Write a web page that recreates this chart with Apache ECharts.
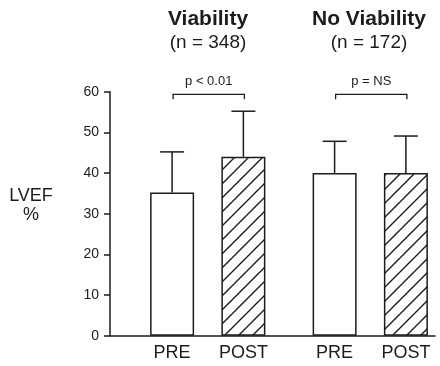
<!DOCTYPE html>
<html>
<head>
<meta charset="utf-8">
<script src="https://cdn.jsdelivr.net/npm/echarts@6/dist/echarts.min.js"></script>
<style>
html,body{margin:0;padding:0;background:#fff;}
#c{width:440px;height:366px;}
</style>
</head>
<body>
<div id="c"></div>
<script>
// ---- data ----
const categories = ['Viability', 'No Viability'];
const groupN = ['(n = 348)', '(n = 172)'];
const seriesNames = ['PRE', 'POST'];
const preMean = [35.2, 40.0];
const preSD = [10.0, 7.8];
const postMean = [44.0, 40.0];
const postSD = [11.2, 9.1];
const pLabels = ['p < 0.01', 'p = NS'];
const yMin = 0, yMax = 60, yStep = 10;

// ---- style ----
const FONT = '"Liberation Sans", Arial, Helvetica, sans-serif';
const INK = '#1c1c1c';
const BAR_W = 44;
const GAP = 0.62;
const BRACKET_LEVEL = 59.35;

function hatch() {
  const s = 14;
  const c = document.createElement('canvas');
  c.width = s; c.height = s;
  const g = c.getContext('2d');
  g.fillStyle = '#fff';
  g.fillRect(0, 0, s, s);
  g.strokeStyle = INK;
  g.lineWidth = 1.4;
  g.beginPath();
  g.moveTo(-2, s + 2); g.lineTo(s + 2, -2);
  g.moveTo(-2, 2); g.lineTo(2, -2);
  g.moveTo(s - 2, s + 2); g.lineTo(s + 2, s - 2);
  g.stroke();
  return c;
}

const chart = echarts.init(document.getElementById('c'), null, {renderer: 'canvas'});

const errData = [];
categories.forEach((c, i) => {
  errData.push([i, preMean[i], preSD[i], 0]);
  errData.push([i, postMean[i], postSD[i], 1]);
});

const barLabel = {
  show: true, position: 'bottom', distance: 8,
  formatter: p => p.seriesName,
  fontFamily: FONT, fontSize: 18, color: INK
};

const option = {
  backgroundColor: '#fff',
  animation: false,
  title: [
    {text: categories[0], subtext: groupN[0], left: 208, top: 7, textAlign: 'center', padding: 0, itemGap: 1,
     textStyle: {fontFamily: FONT, fontSize: 21, fontWeight: 'bold', color: INK, lineHeight: 24},
     subtextStyle: {fontFamily: FONT, fontSize: 19, color: INK, lineHeight: 22}},
    {text: categories[1], subtext: groupN[1], left: 369, top: 7, textAlign: 'center', padding: 0, itemGap: 1,
     textStyle: {fontFamily: FONT, fontSize: 21, fontWeight: 'bold', color: INK, lineHeight: 24},
     subtextStyle: {fontFamily: FONT, fontSize: 19, color: INK, lineHeight: 22}},
    {text: 'LVEF\n%', left: 31, top: 187, textAlign: 'center', padding: 0,
     textStyle: {fontFamily: FONT, fontSize: 18, fontWeight: 'normal', color: INK, lineHeight: 18.5}}
  ],
  grid: [
    {left: 110, top: 91.7, width: 325, height: 244, outerBoundsMode: 'none', containLabel: false},
    {left: 126.5, top: 91.7, width: 325, height: 244, outerBoundsMode: 'none', containLabel: false}
  ],
  xAxis: [
    {gridIndex: 0, type: 'value', min: 0, max: 1,
     axisLine: {show: true, onZero: false, lineStyle: {color: INK, width: 1.5}},
     axisTick: {show: false}, axisLabel: {show: false}, splitLine: {show: false}},
    {gridIndex: 1, type: 'category', data: categories, show: false}
  ],
  yAxis: [
    {gridIndex: 0, type: 'value', min: yMin, max: yMax, interval: yStep,
     axisLine: {show: true, lineStyle: {color: INK, width: 1.5}},
     axisTick: {show: true, length: 6, inside: false, lineStyle: {color: INK, width: 1.5}},
     axisLabel: {margin: 11, fontFamily: FONT, fontSize: 14, color: INK},
     splitLine: {show: false}},
    {gridIndex: 1, type: 'value', min: yMin, max: yMax, show: false}
  ],
  series: [
    {name: seriesNames[0], type: 'bar', xAxisIndex: 1, yAxisIndex: 1, data: preMean,
     barWidth: BAR_W, barGap: (GAP * 100) + '%',
     itemStyle: {color: '#fff', borderColor: INK, borderWidth: 1.5},
     label: barLabel},
    {name: seriesNames[1], type: 'bar', xAxisIndex: 1, yAxisIndex: 1, data: postMean,
     barWidth: BAR_W, barGap: (GAP * 100) + '%',
     itemStyle: {color: {image: hatch(), repeat: 'repeat'}, borderColor: INK, borderWidth: 1.5},
     label: barLabel},
    {type: 'custom', xAxisIndex: 1, yAxisIndex: 1, data: errData, z: 5,
     renderItem: function (params, api) {
       const i = api.value(0), m = api.value(1), sd = api.value(2), s = api.value(3);
       const off = (s === 0 ? -1 : 1) * BAR_W * (1 + GAP) / 2;
       const base = api.coord([i, m]);
       const top = api.coord([i, m + sd]);
       const x = base[0] + off;
       const st = {stroke: INK, lineWidth: 1.5};
       return {type: 'group', children: [
         {type: 'line', shape: {x1: x, y1: base[1], x2: x, y2: top[1]}, style: st},
         {type: 'line', shape: {x1: x - 12, y1: top[1], x2: x + 12, y2: top[1]}, style: st}
       ]};
     }},
    {type: 'custom', xAxisIndex: 1, yAxisIndex: 1, data: categories.map((c, i) => [i, BRACKET_LEVEL]), z: 5,
     renderItem: function (params, api) {
       const i = api.value(0);
       const off = BAR_W * (1 + GAP) / 2;
       const p = api.coord([i, api.value(1)]);
       const x1 = p[0] - off + 1, x2 = p[0] + off + 1, y = p[1];
       const st = {stroke: INK, lineWidth: 1.3, fill: null};
       return {type: 'group', children: [
         {type: 'polyline', shape: {points: [[x1, y + 5], [x1, y], [x2, y], [x2, y + 5]]}, style: st},
         {type: 'text', style: {text: pLabels[params.dataIndex], x: (x1 + x2) / 2, y: y - 13,
           align: 'center', verticalAlign: 'middle', font: '13px ' + FONT, fill: INK}}
       ]};
     }}
  ]
};
chart.setOption(option);
</script>
</body>
</html>
